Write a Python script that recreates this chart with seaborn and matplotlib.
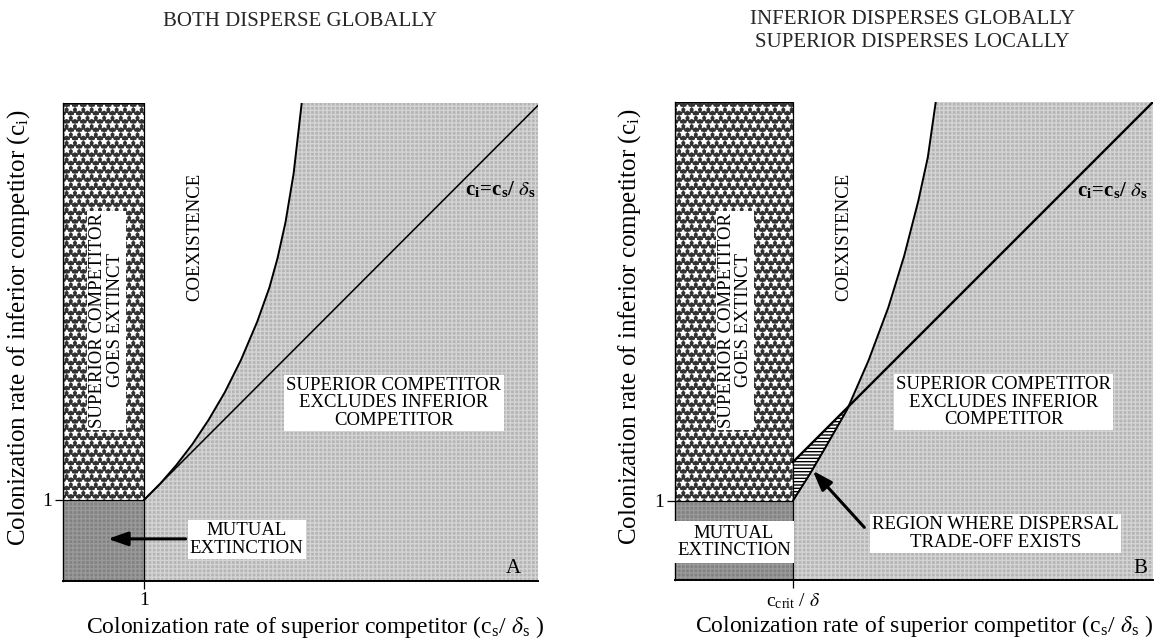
import matplotlib
matplotlib.use("Agg")
import matplotlib.pyplot as plt
import seaborn as sns

# boundary of the coexistence region
# x = c_s / delta_s, y = c_i
curve_a_x = [1.0, 1.2, 1.4, 1.6, 1.8, 2.0, 2.2, 2.4, 2.55, 2.65, 2.75, 2.85, 2.95]
curve_a_y = [1.0, 1.2, 1.43, 1.69, 1.99, 2.33, 2.73, 3.2, 3.62, 3.98, 4.43, 5.03, 5.9]

c_crit = 1.49
curve_b_x = [1.49, 1.7, 1.9, 2.18, 2.45, 2.7, 2.9, 3.08, 3.2, 3.30]
curve_b_y = [1.0, 1.33, 1.67, 2.16, 2.78, 3.45, 4.1, 4.8, 5.35, 6.05]

# c_i = c_s / delta_s lines
diag_a_x = [1.0, 5.87]
diag_b_x = [1.49, 6.05]

xmax_a, ymax_a = 5.87, 5.90
xmax_b, ymax_b = 6.05, 6.05

titles = ["BOTH DISPERSE GLOBALLY",
          "INFERIOR DISPERSES GLOBALLY\nSUPERIOR DISPERSES LOCALLY"]

sns.set_theme(style="ticks")
plt.rcParams['font.family'] = ['Liberation Serif', 'DejaVu Serif']
plt.rcParams['mathtext.fontset'] = 'stix'
plt.rcParams['hatch.linewidth'] = 1.0

GRAY = '#b5b5b5'
GRAY_HATCH = '#d4d4d4'
DARK = '#828282'
DARK_HATCH = '#9a9a9a'
CHECK = '#333333'

fig = plt.figure(figsize=(11.61, 6.40), dpi=100)
ax_a = fig.add_axes([63 / 1161, 1 - 581 / 640, 475 / 1161, 478 / 640])
ax_b = fig.add_axes([675 / 1161, 1 - 580 / 640, 478 / 1161, 478 / 640])


def draw_panel(ax, cx, cy, xstrip, xmax, ymax, diag_x, lw_diag, xlab_x):
    # exclusion region (right of the curve)
    ax.fill_between(list(cx) + [xmax], 0, list(cy) + [ymax],
                    facecolor=GRAY, edgecolor=GRAY_HATCH, hatch='++++', linewidth=0)
    # superior goes extinct strip
    ax.fill_between([0, xstrip], 1.0, ymax, facecolor=CHECK, edgecolor='white',
                    hatch='**', linewidth=0)
    ax.plot([0, xstrip, xstrip, 0, 0], [1, 1, ymax, ymax, 1], color='black', lw=0.9)
    # mutual extinction
    ax.fill_between([0, xstrip], 0, 1.0, facecolor=DARK, edgecolor=DARK_HATCH,
                    hatch='++++', linewidth=0)
    ax.plot([xstrip, xstrip], [0, 1], color='black', lw=0.9)
    # boundaries
    sns.lineplot(x=cx, y=cy, sort=False, color='black', lw=1.4, ax=ax)
    sns.lineplot(x=diag_x, y=diag_x, sort=False, color='black', lw=lw_diag, ax=ax)

    ax.set_xlim(0, xmax)
    ax.set_ylim(0, ymax)
    sns.despine(ax=ax)
    ax.spines['left'].set_linewidth(1.0)
    ax.spines['bottom'].set_linewidth(1.4)
    ax.spines['left'].set_color('black')
    ax.spines['bottom'].set_color('black')
    ax.tick_params(axis='both', length=6, width=0.9, color='black',
                   labelsize=14, pad=2, labelcolor='black')
    ax.set_yticks([1])
    ax.set_yticklabels(['1'])
    ax.set_xlabel(r'Colonization rate of superior competitor (c$_\mathregular{s}$/ $\delta_\mathregular{s}$ )',
                  fontsize=17, color='black')
    ax.set_ylabel(r'Colonization rate of inferior competitor (c$_\mathregular{i}$)',
                  fontsize=18, color='black')
    ax.xaxis.set_label_coords(xlab_x, -0.068)
    ax.yaxis.set_label_coords(-0.066, 0.53)
    ax.grid(False)


box = dict(facecolor='white', edgecolor='none', pad=1.5)
txt = dict(fontsize=13.5, color='black', ha='center', va='center', linespacing=1.05)
eq = r'c$_\mathregular{i}$=c$_\mathregular{s}$/ $\delta_\mathregular{s}$'
arrow = dict(arrowstyle='-|>,head_length=1.0,head_width=0.35', color='black', lw=2.2)

# panel A
draw_panel(ax_a, curve_a_x, curve_a_y, 1.0, xmax_a, ymax_a, diag_a_x, 1.1, 0.53)
ax_a.set_xticks([1])
ax_a.set_xticklabels(['1'])
ax_a.text(1.63, 4.25, 'COEXISTENCE', rotation=90, **txt)
ax_a.text(0.54, 3.22, 'SUPERIOR COMPETITOR\nGOES EXTINCT', rotation=90, bbox=box, **txt)
ax_a.text(4.09, 2.20, 'SUPERIOR COMPETITOR\nEXCLUDES INFERIOR\nCOMPETITOR', bbox=box, **txt)
ax_a.text(5.41, 4.83, eq, fontsize=15, fontweight='bold', ha='center', va='center',
          color='black')
ax_a.text(2.27, 0.51, 'MUTUAL\nEXTINCTION', bbox=box, **txt)
ax_a.annotate('', xy=(0.52, 0.52), xytext=(1.55, 0.52), arrowprops=arrow)
ax_a.text(5.57, 0.16, 'A', fontsize=15, ha='center', va='center', color='black')

# panel B
draw_panel(ax_b, curve_b_x, curve_b_y, c_crit, xmax_b, ymax_b, diag_b_x, 1.7, 0.522)
# region where the dispersal trade-off exists
tri_x = curve_b_x[:4]
tri_low = curve_b_y[:4]
ax_b.fill_between(tri_x, tri_low, tri_x, facecolor='white', edgecolor='black',
                  hatch='-----', linewidth=0)
ax_b.plot(tri_x, tri_low, color='black', lw=0.8)
ax_b.set_xticks([c_crit])
ax_b.set_xticklabels([r'c$_\mathregular{crit}$ / $\delta$'])
ax_b.text(2.13, 4.34, 'COEXISTENCE', rotation=90, **txt)
ax_b.text(0.76, 3.29, 'SUPERIOR COMPETITOR\nGOES EXTINCT', rotation=90, bbox=box, **txt)
ax_b.text(4.16, 2.25, 'SUPERIOR COMPETITOR\nEXCLUDES INFERIOR\nCOMPETITOR', bbox=box, **txt)
ax_b.text(5.53, 4.92, eq, fontsize=15, fontweight='bold', ha='center', va='center',
          color='black')
ax_b.text(c_crit / 2, 0.48, 'MUTUAL\nEXTINCTION',
          bbox=dict(facecolor='white', edgecolor='none', pad=2.5), **txt)
ax_b.text(4.06, 0.59, 'REGION WHERE DISPERSAL\nTRADE-OFF EXISTS', bbox=box, **txt)
ax_b.annotate('', xy=(1.72, 1.41), xytext=(2.42, 0.64), arrowprops=arrow)
ax_b.text(5.89, 0.15, 'B', fontsize=15, ha='center', va='center', color='black')

fig.text(300 / 1161, 1 - 22 / 640, titles[0], fontsize=15, ha='center', va='center')
fig.text(912 / 1161, 1 - 31 / 640, titles[1], fontsize=15, ha='center', va='center',
         linespacing=1.3)

fig.savefig('out.png', dpi=100)
